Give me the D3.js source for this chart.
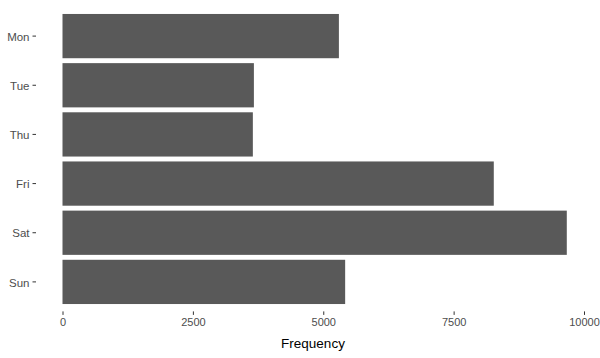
<!DOCTYPE html>
<html>
<head>
<meta charset="utf-8">
<script src="https://cdn.jsdelivr.net/npm/d3@7"></script>
<style>
  body { margin: 0; background: #fff; }
  svg { display: block; }
</style>
</head>
<body>
<svg id="chart" width="600" height="358"></svg>
<script>
const days = ["Mon", "Tue", "Thu", "Fri", "Sat", "Sun"];
const frequency = [5300, 3670, 3650, 8270, 9670, 5420];
const xTicks = [0, 2500, 5000, 7500, 10000];
const xLabel = "Frequency";

const svg = d3.select("#chart");
const panel = { left: 36, right: 590, top: 6.6, bottom: 311.4 };

const x = d3.scaleLinear().domain([0, 10000]).range([62.5, 584]);
const y = d3.scaleBand().domain(days).range([panel.top, panel.bottom])
  .paddingInner(0.1).paddingOuter(0.15);

// bars
svg.append("g").selectAll("rect")
  .data(days.map((d, i) => ({ day: d, value: frequency[i] })))
  .join("rect")
  .attr("x", x(0))
  .attr("y", d => y(d.day))
  .attr("width", d => x(d.value) - x(0))
  .attr("height", y.bandwidth())
  .attr("fill", "#595959");

// x axis
const xAxis = svg.append("g")
  .attr("transform", `translate(0,${panel.bottom})`)
  .call(d3.axisBottom(x).tickValues(xTicks).tickFormat(d3.format("d")).tickSize(3.5).tickPadding(3));
xAxis.select(".domain").remove();
xAxis.selectAll(".tick line").attr("stroke", "#333333").attr("stroke-width", 1);
xAxis.selectAll(".tick text")
  .attr("fill", "#4d4d4d")
  .style("font-family", "'Liberation Sans', Arial, sans-serif")
  .style("font-size", "11px");

// y axis
const yAxis = svg.append("g")
  .attr("transform", `translate(${panel.left},0)`)
  .call(d3.axisLeft(y).tickSize(3.5).tickPadding(3));
yAxis.select(".domain").remove();
yAxis.selectAll(".tick line").attr("stroke", "#333333").attr("stroke-width", 1);
yAxis.selectAll(".tick text")
  .attr("fill", "#4d4d4d")
  .attr("dy", "0.4em")
  .style("font-family", "'Liberation Sans', Arial, sans-serif")
  .style("font-size", "11.5px");

// x title
svg.append("text")
  .attr("x", (panel.left + panel.right) / 2)
  .attr("y", 348)
  .attr("text-anchor", "middle")
  .attr("fill", "#000")
  .style("font-family", "'Liberation Sans', Arial, sans-serif")
  .style("font-size", "13.5px")
  .text(xLabel);
</script>
</body>
</html>
